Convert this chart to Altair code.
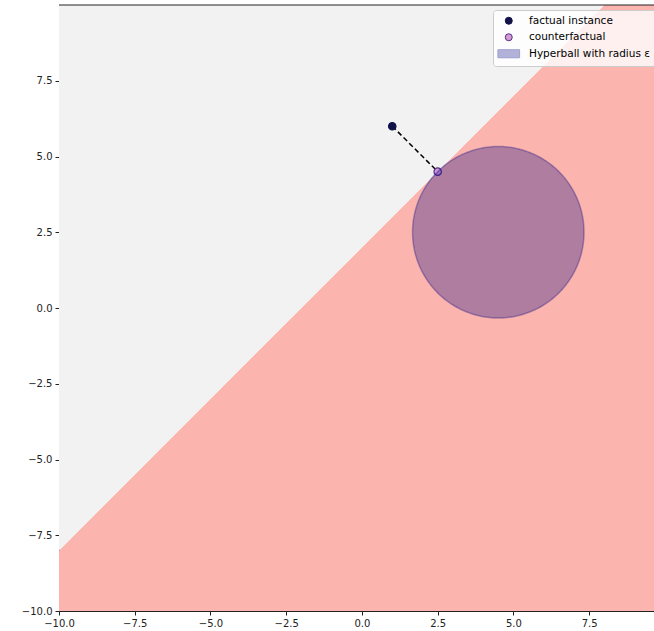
import numpy as np
import pandas as pd
import altair as alt

# Visible axis range (the figure is cut at the right edge) and ticks
x_lim = [-10, 9.64]
y_lim = [-10, 10]
x_ticks = [-10.0, -7.5, -5.0, -2.5, 0.0, 2.5, 5.0, 7.5]
y_ticks = [-10.0, -7.5, -5.0, -2.5, 0.0, 2.5, 5.0, 7.5]

# Linear decision boundary y = x + 2, clipped to the plot window
boundary_x = [-10.0, 8.0, 10.0]
boundary_y = [-8.0, 10.0, 10.0]

# Instances
factual = (1.0, 6.0)
counterfactual = (2.5, 4.5)

# Hyperball around the counterfactual region
ball_center = (4.5, 2.5)
ball_radius = 2.83

labels = ["factual instance", "counterfactual", "Hyperball with radius \u03b5"]

# Class regions
below = pd.DataFrame({"x": boundary_x, "y": [-10.0] * 3, "y2": boundary_y})
above = pd.DataFrame({"x": boundary_x[:2], "y": boundary_y[:2], "y2": [10.0, 10.0]})

# Circle outline as upper/lower halves over x
t = np.linspace(0, np.pi, 181)
cx = ball_center[0] + ball_radius * np.cos(t)
ball = pd.DataFrame({
    "x": cx,
    "y": ball_center[1] - ball_radius * np.sin(t),
    "y2": ball_center[1] + ball_radius * np.sin(t),
}).sort_values("x")

path = pd.DataFrame({"x": [factual[0], counterfactual[0]],
                     "y": [factual[1], counterfactual[1]]})

points = pd.DataFrame({
    "x": [factual[0], counterfactual[0]],
    "y": [factual[1], counterfactual[1]],
    "label": labels[:2],
})

label_expr = "replace(format(datum.value, '.1f'), '-', '\u2212')"

xs = alt.Scale(domain=x_lim, nice=False, zero=False)
ys = alt.Scale(domain=y_lim, nice=False, zero=False)

x_axis = alt.Axis(values=x_ticks, labelExpr=label_expr, title=None, grid=False,
                  labelFlush=False)
y_axis = alt.Axis(values=y_ticks, labelExpr=label_expr, title=None, grid=False,
                  labelFlush=False)

region_below = alt.Chart(below).mark_area(color="#fbb4ae", opacity=1, clip=True).encode(
    x=alt.X("x:Q", scale=xs, axis=x_axis),
    y=alt.Y("y:Q", scale=ys, axis=y_axis),
    y2="y2:Q",
)

region_above = alt.Chart(above).mark_area(color="#f2f2f2", opacity=1, clip=True).encode(
    x="x:Q", y="y:Q", y2="y2:Q",
)

path_layer = alt.Chart(path).mark_line(
    color="black", strokeDash=[5, 3], strokeWidth=1.5
).encode(x="x:Q", y="y:Q")

patch_shape = "M-3.1,-1.15H3.1V1.15H-3.1Z"
leg = alt.Legend(
    title=None, orient="none", legendX=434, legendY=5,
    fillColor="rgba(255,255,255,0.8)", strokeColor="#cccccc", cornerRadius=3,
    padding=5.5, symbolOffset=5, labelOffset=15, rowPadding=4.5,
    labelFont="DejaVu Sans", labelFontSize=10.5, labelColor="black",
    symbolSize=49, symbolStrokeWidth=1, symbolOpacity=1,
)

points_layer = alt.Chart(points).mark_point(
    filled=True, size=55, opacity=1, strokeWidth=1.2
).encode(
    x="x:Q", y="y:Q",
    fill=alt.Fill("label:N", scale=alt.Scale(domain=labels,
                  range=["#12124a", "#d49ad4", "#b2b2d9"]), legend=leg),
    stroke=alt.Stroke("label:N", scale=alt.Scale(domain=labels,
                      range=["#12124a", "#5a2e8a", "#9e9ecf"]), legend=leg),
    shape=alt.Shape("label:N", scale=alt.Scale(domain=labels,
                    range=["circle", "circle", patch_shape]), legend=leg),
)

# Translucent hyperball drawn over the instances
ball_layer = alt.Chart(ball).mark_area(
    fill="navy", fillOpacity=0.3, stroke="navy", strokeOpacity=0.3,
    strokeWidth=1.5, clip=True,
).encode(x="x:Q", y="y:Q", y2="y2:Q")

# Top spine
top_spine = alt.Chart(pd.DataFrame({"y": [y_lim[1]]})).mark_rule(
    color="#222222", strokeWidth=1
).encode(y="y:Q")

chart = alt.layer(
    region_below, region_above, path_layer, points_layer, ball_layer, top_spine
).properties(
    width=595, height=606,
    autosize=alt.AutoSizeParams(type="none"),
    padding={"left": 59, "top": 5, "right": 0, "bottom": 20},
).configure_view(
    strokeWidth=0
).configure_axis(
    domainColor="#222222", tickColor="#222222", tickSize=4,
    labelFont="DejaVu Sans", labelFontSize=10, labelColor="#222222",
    labelPadding=3, zindex=1,
)

chart.save("out.html", embed_options={"renderer": "svg", "actions": False})
